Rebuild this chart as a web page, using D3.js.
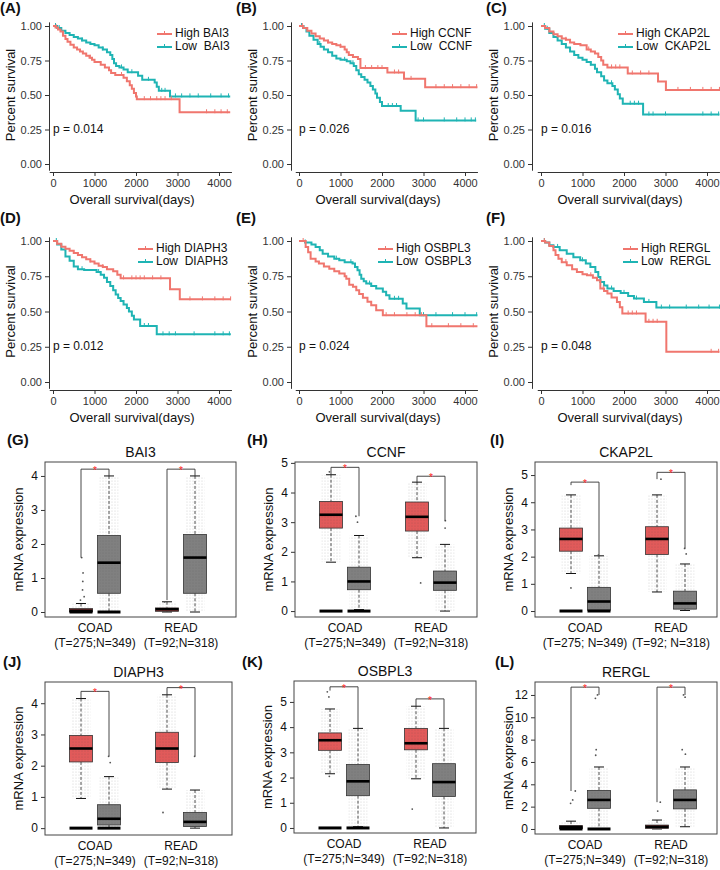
<!DOCTYPE html>
<html><head><meta charset="utf-8">
<script src="https://cdn.jsdelivr.net/npm/d3@7"></script>
<style>body{margin:0;background:#fff}svg text{font-family:"Liberation Sans",Arial,sans-serif}</style>
</head><body><svg id="c" width="720" height="870"></svg>
<script>
// ---------------- DATA ----------------
const kmGenes = ["BAI3","CCNF","CKAP2L","DIAPH3","OSBPL3","RERGL"];
const kmPanelLabels = ["(A)","(B)","(C)","(D)","(E)","(F)"];
const kmPValues = ["p = 0.014","p = 0.026","p = 0.016","p = 0.012","p = 0.024","p = 0.048"];
const kmXTicks = [0,1000,2000,3000,4000];
const kmYTicks = [0,0.25,0.5,0.75,1];
// step curves: [time(days), survival after step]
const highBAI3 = [[0,1],[60,0.99],[120,0.975],[180,0.96],[240,0.93],[300,0.905],[350,0.885],[420,0.865],[500,0.845],[580,0.83],[650,0.815],[720,0.8],[800,0.785],[880,0.77],[940,0.755],[1000,0.74],[1150,0.72],[1250,0.7],[1350,0.68],[1400,0.66],[1500,0.645],[1700,0.625],[1780,0.6],[1850,0.57],[1900,0.545],[1950,0.515],[2000,0.49],[2020,0.47],[3050,0.375],[4270,0.375]];
const lowBAI3 = [[0,1],[100,0.985],[200,0.965],[300,0.95],[400,0.935],[500,0.92],[600,0.91],[700,0.895],[800,0.88],[900,0.87],[1000,0.86],[1100,0.845],[1200,0.83],[1300,0.81],[1380,0.79],[1430,0.76],[1470,0.73],[1520,0.71],[1600,0.7],[1700,0.685],[1800,0.665],[2050,0.64],[2150,0.61],[2450,0.59],[2500,0.56],[2550,0.53],[2820,0.49],[4270,0.49]];
const highCCNF = [[0,1],[100,0.985],[200,0.965],[300,0.945],[400,0.925],[500,0.91],[600,0.895],[700,0.88],[800,0.87],[900,0.86],[1000,0.85],[1100,0.83],[1150,0.81],[1200,0.79],[1300,0.775],[1420,0.76],[1480,0.695],[2130,0.663],[2530,0.617],[3040,0.557],[4300,0.557]];
const lowCCNF = [[0,1],[100,0.985],[180,0.96],[250,0.93],[350,0.9],[450,0.87],[520,0.85],[600,0.83],[700,0.81],[800,0.785],[900,0.765],[1000,0.755],[1150,0.745],[1240,0.73],[1320,0.71],[1380,0.68],[1440,0.65],[1500,0.63],[1580,0.61],[1650,0.59],[1720,0.565],[1780,0.54],[1840,0.51],[1880,0.48],[1950,0.45],[2000,0.42],[2450,0.386],[2810,0.316],[4270,0.316]];
const highCKAP2L = [[0,1],[100,0.985],[200,0.96],[300,0.94],[400,0.925],[500,0.91],[600,0.9],[700,0.88],[800,0.87],[950,0.86],[1100,0.83],[1200,0.815],[1300,0.8],[1380,0.775],[1450,0.75],[1500,0.72],[1600,0.7],[2090,0.656],[2820,0.598],[3010,0.537],[4320,0.537]];
const lowCKAP2L = [[0,1],[100,0.98],[200,0.95],[300,0.92],[400,0.895],[500,0.87],[600,0.845],[700,0.815],[800,0.79],[900,0.77],[1000,0.755],[1100,0.74],[1200,0.72],[1300,0.69],[1350,0.665],[1450,0.635],[1520,0.605],[1600,0.585],[1720,0.565],[1780,0.54],[1850,0.505],[1900,0.475],[1970,0.437],[2460,0.359],[4300,0.359]];
const highDIAPH3 = [[0,1],[100,0.98],[200,0.96],[300,0.945],[400,0.93],[500,0.915],[600,0.9],[700,0.885],[800,0.87],[900,0.855],[1000,0.84],[1100,0.825],[1200,0.815],[1300,0.8],[1450,0.785],[1550,0.76],[1630,0.735],[2820,0.657],[3055,0.586],[4285,0.586]];
const lowDIAPH3 = [[0,1],[100,0.975],[200,0.94],[300,0.89],[400,0.86],[500,0.82],[600,0.8],[750,0.795],[1050,0.78],[1150,0.76],[1230,0.74],[1300,0.71],[1380,0.68],[1450,0.65],[1510,0.62],[1570,0.595],[1630,0.574],[1700,0.55],[1780,0.525],[1830,0.5],[1900,0.47],[1950,0.444],[2100,0.397],[2500,0.338],[4285,0.338]];
const highOSBPL3 = [[0,1],[160,0.958],[220,0.92],[280,0.875],[400,0.855],[480,0.84],[600,0.82],[730,0.804],[850,0.785],[970,0.769],[1100,0.75],[1140,0.733],[1210,0.69],[1300,0.675],[1380,0.651],[1450,0.625],[1540,0.597],[1650,0.57],[1740,0.545],[1860,0.509],[2020,0.474],[3070,0.396],[4300,0.396]];
const lowOSBPL3 = [[0,1],[150,0.99],[300,0.975],[400,0.958],[500,0.935],[570,0.91],[700,0.89],[850,0.875],[970,0.863],[1100,0.85],[1290,0.84],[1350,0.815],[1410,0.792],[1460,0.76],[1500,0.733],[1560,0.715],[1620,0.698],[1740,0.68],[1860,0.663],[2020,0.64],[2100,0.615],[2180,0.59],[2500,0.557],[2590,0.521],[2910,0.474],[4300,0.474]];
const highRERGL = [[0,1],[100,0.99],[200,0.965],[300,0.934],[350,0.9],[420,0.875],[500,0.85],[620,0.828],[750,0.8],[865,0.78],[1000,0.765],[1107,0.757],[1250,0.74],[1350,0.722],[1430,0.663],[1520,0.645],[1600,0.627],[1700,0.6],[1830,0.568],[1900,0.53],[1960,0.486],[2520,0.427],[3020,0.214],[4300,0.214]];
const lowRERGL = [[0,1],[100,0.99],[200,0.97],[300,0.958],[450,0.935],[620,0.91],[780,0.885],[945,0.863],[1080,0.84],[1190,0.816],[1310,0.78],[1380,0.745],[1430,0.71],[1520,0.685],[1600,0.663],[1750,0.645],[1920,0.632],[2100,0.61],[2240,0.592],[2480,0.568],[2780,0.528],[4320,0.528]];
// censor times
const censorHighBAI3 = [80,900,1650,2200,2350,2500,2600,2700,2850,3700,3900,4050,4200];
const censorLowBAI3 = [60,150,700,1200,1650,1900,2300,2620,2700,2950,3100,3300,3500,3800,4050,4230];
const censorHighCCNF = [80,700,1000,1600,1750,1900,2000,2300,2400,2700,3300,3500,3700,3900,4100,4280];
const censorLowCCNF = [60,120,500,1100,1300,2150,2250,2350,2870,3000,3500,3800,4000,4150,4250];
const censorHighCKAP2L = [100,600,1150,1700,1800,1900,2200,2400,2600,3300,3600,3900,4100,4300];
const censorLowCKAP2L = [80,150,1200,1700,2150,2250,2350,2600,2700,3000,3900,4100,4280];
const censorHighDIAPH3 = [100,600,900,1200,1700,1900,2000,2100,2200,2400,2600,3300,3600,3900,4100,4280];
const censorLowDIAPH3 = [80,700,1100,2200,2300,2650,2800,2950,3400,3900,4100,4250];
const censorHighOSBPL3 = [100,2100,2300,2600,2800,2950,3200,3600,3900,4200];
const censorLowOSBPL3 = [150,900,1250,1700,2300,2400,3000,3300,3700,4000,4280];
const censorHighRERGL = [80,600,1200,1500,2100,2200,2300,2600,2700,2800,4100,4280];
const censorLowRERGL = [80,400,1000,1700,2000,2300,2600,2900,3100,3500,3800,4050,4300];

const kmHigh = [highBAI3,highCCNF,highCKAP2L,highDIAPH3,highOSBPL3,highRERGL];
const kmLow = [lowBAI3,lowCCNF,lowCKAP2L,lowDIAPH3,lowOSBPL3,lowRERGL];
const kmCensorHigh = [censorHighBAI3,censorHighCCNF,censorHighCKAP2L,censorHighDIAPH3,censorHighOSBPL3,censorHighRERGL];
const kmCensorLow = [censorLowBAI3,censorLowCCNF,censorLowCKAP2L,censorLowDIAPH3,censorLowOSBPL3,censorLowRERGL];

// box plots
const boxGenes = ["BAI3","CCNF","CKAP2L","DIAPH3","OSBPL3","RERGL"];
const boxPanelLabels = ["(G)","(H)","(I)","(J)","(K)","(L)"];
const boxCategories = ["COAD","READ"];
const boxSampleLabels = [
  ["(T=275;N=349)","(T=92;N=318)"],["(T=275;N=349)","(T=92;N=318)"],["(T=275; N=349)","(T=92; N=318)"],
  ["(T=275;N=349)","(T=92;N=318)"],["(T=275;N=349)","(T=92;N=318)"],["(T=275;N=349)","(T=92;N=318)"]];
const boxYTicks = [[0,1,2,3,4],[0,1,2,3,4,5],[0,1,2,3,4,5],[0,1,2,3,4],[0,1,2,3,4,5],[0,2,4,6,8,10,12]];
// [whiskerLow, q1, median, q3, whiskerHigh] for COAD-T, COAD-N, READ-T, READ-N
const statsBAI3 = [[0,0,0.04,0.1,0.25],[0,0.55,1.45,2.25,4.0],[0,0.02,0.08,0.12,0.3],[0,0.55,1.6,2.28,4.0]];
const statsCCNF = [[1.65,2.8,3.25,3.7,4.6],[0.05,0.72,1.0,1.48,2.55],[1.8,2.7,3.18,3.68,4.35],[0,0.7,0.96,1.35,2.25]];
const statsCKAP2L = [[1.38,2.2,2.65,3.05,4.27],[0,0.03,0.35,0.87,2.03],[0.7,2.08,2.65,3.1,4.27],[0.02,0.07,0.28,0.73,1.73]];
const statsDIAPH3 = [[0.95,2.12,2.55,2.97,4.15],[0,0.1,0.3,0.75,1.65],[1.25,2.1,2.55,3.07,4.27],[0,0.05,0.2,0.5,1.22]];
const statsOSBPL3 = [[2.15,3.08,3.48,3.77,4.72],[0.05,1.28,1.85,2.52,3.95],[1.95,3.1,3.36,3.95,4.83],[0,1.25,1.82,2.55,3.95]];
const statsRERGL = [[0,0.03,0.18,0.3,0.7],[0,1.85,2.6,3.45,5.55],[0,0.05,0.2,0.35,0.8],[0.2,1.8,2.6,3.5,5.55]];
const boxStats = [statsBAI3,statsCCNF,statsCKAP2L,statsDIAPH3,statsOSBPL3,statsRERGL];
// significance bracket per category: [top, tumour start, normal end]
const bracketBAI3 = [[4.2,1.6,4.0],[4.2,0.35,4.0]];
const bracketCCNF = [[4.85,4.6,3.2],[4.55,4.35,3.05]];
const bracketCKAP2L = [[4.74,4.63,2.05],[5.1,4.85,2.3]];
const bracketDIAPH3 = [[4.38,4.15,2.3],[4.5,4.27,2.3]];
const bracketOSBPL3 = [[5.6,5.45,3.95],[5.12,4.83,3.95]];
const bracketRERGL = [[12.7,3.4,12.0],[12.7,2.4,12.0]];
const boxBrackets = [bracketBAI3,bracketCCNF,bracketCKAP2L,bracketDIAPH3,bracketOSBPL3,bracketRERGL];
// thick bar at zero (1 = present)
const zeroBars = [[1,1,0,0],[1,1,0,0],[1,1,0,0],[1,1,0,0],[1,1,0,0],[1,1,0,0]];
// notable individual points [box index, value]
const pointsBAI3 = [[0,1.6],[0,1.15],[0,0.9],[0,0.65],[0,0.45],[0,0.35],[2,0.3]];
const pointsCCNF = [[2,0.95],[1,3.2],[1,3.0],[3,3.05],[3,2.8],[0,4.7]];
const pointsCKAP2L = [[0,0.85],[2,4.85],[1,2.05],[3,2.3],[3,2.1]];
const pointsDIAPH3 = [[2,0.5],[1,2.3],[3,2.3],[1,2.1]];
const pointsOSBPL3 = [[2,0.75],[0,5.4],[0,5.2],[0,2.05]];
const pointsRERGL = [[1,12.0],[1,11.7],[3,12.0],[3,11.8],[1,7.1],[1,6.6],[3,7.1],[3,6.7],[0,3.4],[0,2.6],[0,2.3],[2,2.4],[2,1.6]];
const boxPoints = [pointsBAI3,pointsCCNF,pointsCKAP2L,pointsDIAPH3,pointsOSBPL3,pointsRERGL];

// ---------------- DRAW ----------------
const svg = d3.select("#c");
const RED = "#F0766E", TEAL = "#1FB4B4";
const BOXRED = "#E15A5A", BOXGREY = "#808080";
const FONT = '"Liberation Sans",Arial,sans-serif';

function styleAxis(sel, size, color){
  sel.attr("font-family", FONT).attr("font-size", size);
  sel.selectAll("text").attr("fill", color);
  sel.selectAll("line").attr("stroke", "#333");
  sel.selectAll("path").attr("stroke", "#333");
}
function survAt(curve, t){
  let s = curve[0][1];
  for (const p of curve){ if (p[0] <= t) s = p[1]; }
  return s;
}

function drawKM(i){
  const col = i % 3, row = Math.floor(i / 3);
  const x0 = [53,299,541][col], axX = [49,291,532][col];
  const yTop = [26,241][row], yBot = [164,382][row];
  const x = d3.scaleLinear().domain([0,4000]).range([x0, x0 + 166]);
  const y = d3.scaleLinear().domain([0,1]).range([yBot, yTop]);
  const g = svg.append("g");
  const ya = y.copy().domain([-0.045,1.03]).range([y(-0.045), y(1.03)]);
  g.append("g").attr("transform", `translate(${axX},0)`)
    .call(d3.axisLeft(ya).tickValues(kmYTicks).tickFormat(d3.format(".2f")).tickSize(4).tickSizeOuter(0))
    .call(s => styleAxis(s, 11, "#333"));
  const xa = x.copy().domain([-90,4300]).range([x(-90), x(4300)]);
  g.append("g").attr("transform", `translate(0,${yBot + 8})`)
    .call(d3.axisBottom(xa).tickValues(kmXTicks).tickFormat(d3.format("d")).tickSize(4).tickSizeOuter(0))
    .call(s => styleAxis(s, 11, "#333"));
  // axis titles
  g.append("text").attr("transform", `translate(${axX - 37},${(yTop + yBot) / 2}) rotate(-90)`)
    .attr("text-anchor", "middle").attr("dominant-baseline", "middle")
    .attr("font-size", 13).attr("fill", "#111").text("Percent survival");
  g.append("text").attr("x", x0 + 79).attr("y", yBot + 40).attr("text-anchor", "middle")
    .attr("font-size", 13).attr("fill", "#111").text("Overall survival(days)");
  // panel label
  g.append("text").attr("x", [0,236,486][col]).attr("y", [13,223][row])
    .attr("font-size", 15).attr("font-weight", "bold").attr("fill", "#111").text(kmPanelLabels[i]);
  // curves
  const line = d3.line().x(d => x(d[0])).y(d => y(d[1])).curve(d3.curveStepAfter);
  const series = [[kmLow[i], TEAL, kmCensorLow[i]], [kmHigh[i], RED, kmCensorHigh[i]]];
  series.forEach(([curve, color, cens]) => {
    g.append("path").attr("d", line(curve)).attr("fill", "none").attr("stroke", color).attr("stroke-width", 2);
    g.selectAll(null).data(cens).enter().append("line")
      .attr("x1", d => x(d)).attr("x2", d => x(d))
      .attr("y1", d => y(survAt(curve, d)) - 3).attr("y2", d => y(survAt(curve, d)) + 1)
      .attr("stroke", color).attr("stroke-width", 1);
  });
  // p value
  g.append("text").attr("x", x0).attr("y", y(0.25)).attr("dominant-baseline", "middle")
    .attr("font-size", 12).attr("fill", "#111").text(kmPValues[i]);
  // legend
  const lx = [157,392,618][col] + (row === 1 ? [-19,-14,5][col] : 0);
  const ly = yTop + 8;
  [["High ", RED], ["Low  ", TEAL]].forEach(([lab, color], k) => {
    const yy = ly + k * 13;
    g.append("line").attr("x1", lx).attr("x2", lx + 15).attr("y1", yy).attr("y2", yy)
      .attr("stroke", color).attr("stroke-width", 2);
    g.append("line").attr("x1", lx + 7.5).attr("x2", lx + 7.5).attr("y1", yy - 3).attr("y2", yy + 1)
      .attr("stroke", color).attr("stroke-width", 1);
    g.append("text").attr("x", lx + 18).attr("y", yy).attr("dominant-baseline", "middle")
      .attr("font-size", 12).attr("fill", "#111").attr("xml:space", "preserve")
      .style("white-space", "pre").text(lab + kmGenes[i]);
  });
}

const boxFrames = [
  {left:45, top:462, right:236, bottom:617, yMin:-0.147, yMax:4.41},
  {left:295, top:462, right:477, bottom:617, yMin:-0.2, yMax:5.03},
  {left:535, top:462, right:717, bottom:617, yMin:-0.22, yMax:5.48},
  {left:45, top:682, right:232, bottom:835, yMin:-0.22, yMax:4.68},
  {left:294, top:681, right:476, bottom:833, yMin:-0.2, yMax:5.83},
  {left:535, top:682, right:717, bottom:834, yMin:-0.45, yMax:13.16}
];
const boxOffsets = [36,64,122,150];
const boxLabelX = [[7,247,490],[3,242,495]];

const defs = svg.append("defs");
defs.append("pattern").attr("id","stip").attr("width",3).attr("height",3).attr("patternUnits","userSpaceOnUse")
  .append("circle").attr("cx",1).attr("cy",1).attr("r",0.55).attr("fill","#444");

function drawBox(i){
  const F = boxFrames[i];
  const col = i % 3, row = Math.floor(i / 3);
  const y = d3.scaleLinear().domain([F.yMin, F.yMax]).range([F.bottom, F.top]);
  const g = svg.append("g");
  g.append("text").attr("x", boxLabelX[row][col]).attr("y", row === 0 ? 445 : 667)
    .attr("font-size", 15).attr("font-weight", "bold").attr("fill", "#111").text(boxPanelLabels[i]);
  g.append("text").attr("x", (F.left + F.right) / 2).attr("y", F.top - 5).attr("text-anchor", "middle")
    .attr("font-size", 14).attr("fill", "#111").text(boxGenes[i]);
  g.append("g").attr("transform", `translate(${F.left},0)`)
    .call(d3.axisLeft(y).tickValues(boxYTicks[i]).tickFormat(d3.format("d")).tickSize(4).tickSizeOuter(0))
    .call(s => { styleAxis(s, 12, "#111"); s.select(".domain").remove(); });
  g.append("text").attr("transform", `translate(${F.left - 25},${(F.top + F.bottom) / 2}) rotate(-90)`)
    .attr("text-anchor", "middle").attr("dominant-baseline", "middle")
    .attr("font-size", 13).attr("fill", "#111").text("mRNA expression");
  const st = boxStats[i];
  const hw = 11.5, cw = 5;
  st.forEach((s, k) => {
    const cx = F.left + boxOffsets[k];
    const [lo, q1, med, q3, hi] = s;
    g.append("line").attr("x1", cx).attr("x2", cx).attr("y1", y(hi)).attr("y2", y(q3))
      .attr("stroke", "#222").attr("stroke-dasharray", "3,2").attr("stroke-width", 0.8);
    g.append("line").attr("x1", cx).attr("x2", cx).attr("y1", y(q1)).attr("y2", y(lo))
      .attr("stroke", "#222").attr("stroke-dasharray", "3,2").attr("stroke-width", 0.8);
    [hi, lo].forEach(v => g.append("line").attr("x1", cx - cw).attr("x2", cx + cw)
      .attr("y1", y(v)).attr("y2", y(v)).attr("stroke", "#111").attr("stroke-width", 1));
    g.append("rect").attr("x", cx - hw).attr("width", hw * 2).attr("y", y(q3))
      .attr("height", Math.max(1, y(q1) - y(q3)))
      .attr("fill", k % 2 === 0 ? BOXRED : BOXGREY).attr("stroke", "#333").attr("stroke-width", 0.8);
    g.append("rect").attr("x", cx - hw + 2).attr("width", hw * 2 - 4).attr("y", y(hi))
      .attr("height", y(lo) - y(hi)).attr("fill", "url(#stip)").attr("opacity", 0.28);
    g.append("line").attr("x1", cx - hw).attr("x2", cx + hw).attr("y1", y(med)).attr("y2", y(med))
      .attr("stroke", "#000").attr("stroke-width", 2.6);
    if (zeroBars[i][k]) g.append("line").attr("x1", cx - hw).attr("x2", cx + hw).attr("y1", y(0)).attr("y2", y(0))
      .attr("stroke", "#000").attr("stroke-width", 3);
  });
  g.selectAll(null).data(boxPoints[i]).enter().append("circle")
    .attr("cx", d => F.left + boxOffsets[d[0]] + ((d[1] * 37) % 9 - 4.5))
    .attr("cy", d => y(d[1])).attr("r", 0.9).attr("fill", "#555");
  boxBrackets[i].forEach((b, c) => {
    const xa = F.left + boxOffsets[c * 2], xb = F.left + boxOffsets[c * 2 + 1];
    g.append("path").attr("d", `M${xa},${y(b[1])}V${y(b[0])}H${xb}V${y(b[2])}`)
      .attr("fill", "none").attr("stroke", "#333").attr("stroke-width", 0.9);
    g.append("text").attr("x", (xa + xb) / 2).attr("y", y(b[0]) + 5).attr("text-anchor", "middle")
      .attr("font-size", 10).attr("fill", "#f22").text("*");
  });
  g.append("rect").attr("x", F.left).attr("y", F.top).attr("width", F.right - F.left).attr("height", F.bottom - F.top)
    .attr("fill", "none").attr("stroke", "#444").attr("stroke-width", 1);
  boxCategories.forEach((cat, c) => {
    const cx = F.left + (boxOffsets[c * 2] + boxOffsets[c * 2 + 1]) / 2;
    g.append("text").attr("x", cx).attr("y", F.bottom + 15).attr("text-anchor", "middle")
      .attr("font-size", 12).attr("fill", "#111").text(cat);
    g.append("text").attr("x", cx).attr("y", F.bottom + 30).attr("text-anchor", "middle")
      .attr("font-size", 12).attr("fill", "#111").text(boxSampleLabels[i][c]);
  });
}

for (let i = 0; i < 6; i++) drawKM(i);
for (let i = 0; i < 6; i++) drawBox(i);
</script></body></html>
